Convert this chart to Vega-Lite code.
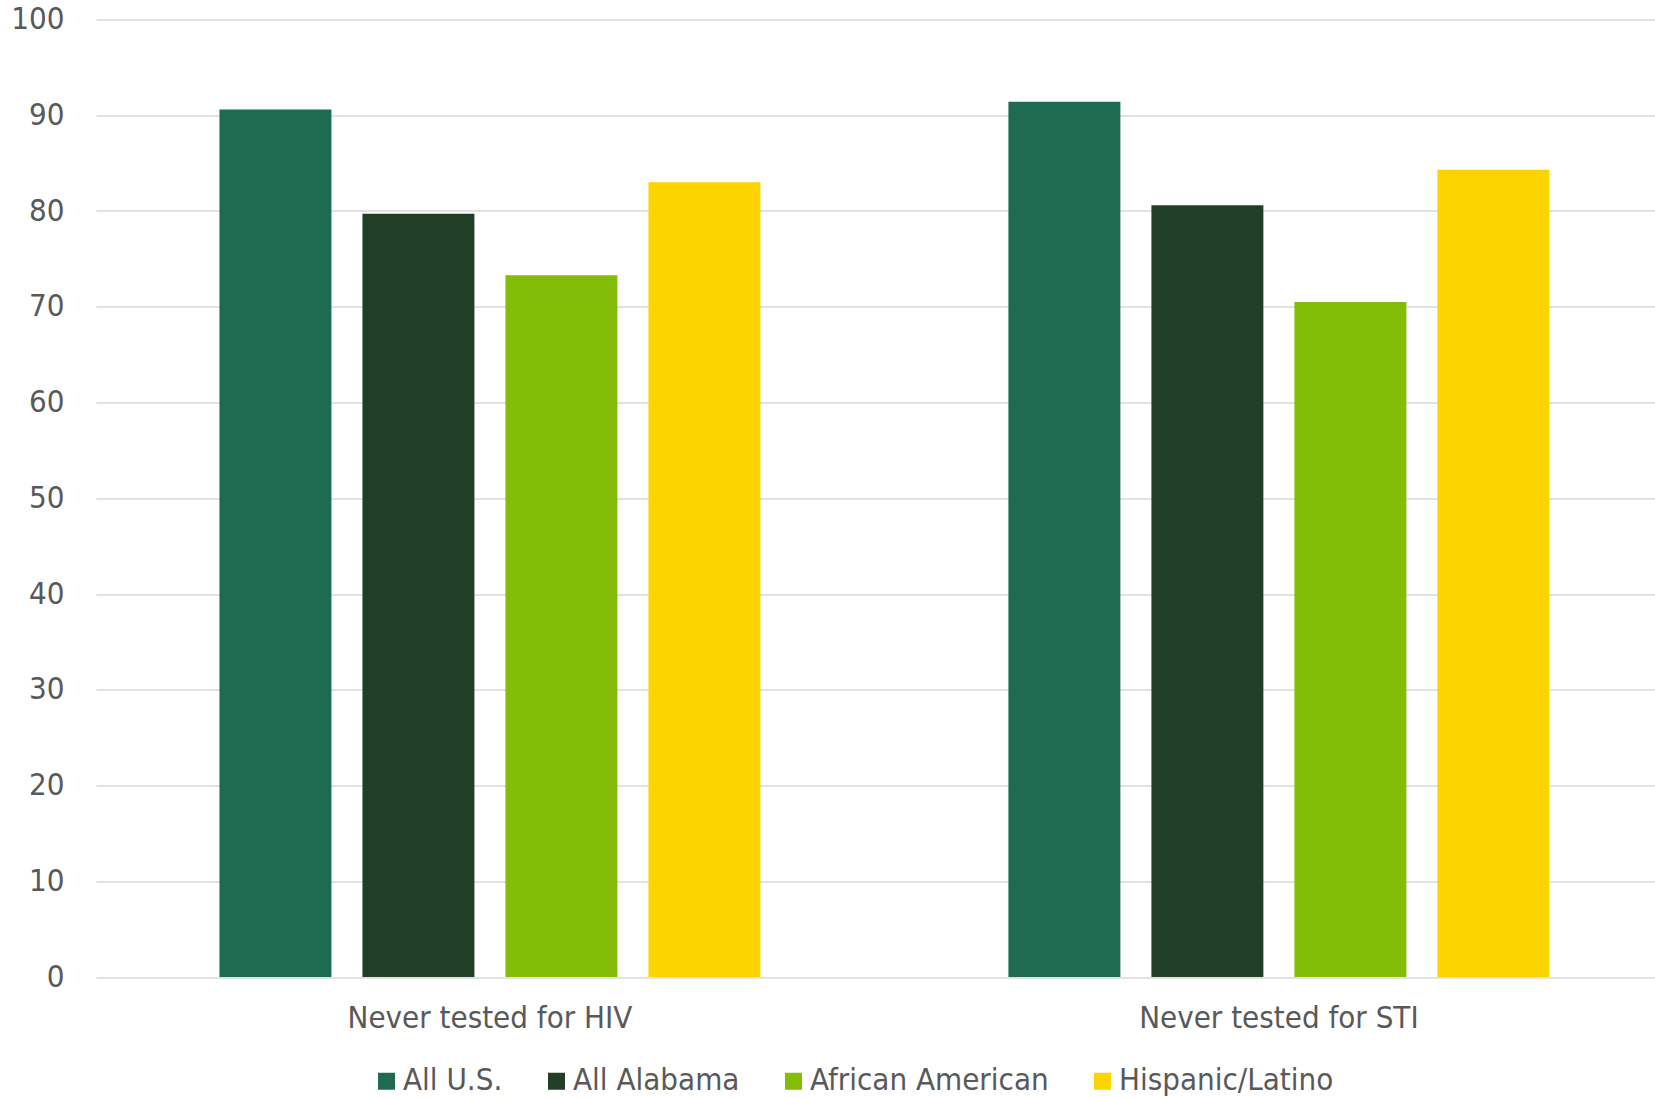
{
  "$schema": "https://vega.github.io/schema/vega-lite/v6.json",
  "width": 1559,
  "height": 957.5,
  "autosize": {"type": "none"},
  "padding": {"left": 96, "top": 19.5, "right": 0, "bottom": 121},
  "background": "white",
  "config": {
    "view": {"stroke": null},
    "font": "Liberation Sans Narrow, DejaVu Sans Condensed, Liberation Sans, sans-serif"
  },
  "data": {
    "values": [
      {"measure": "Never tested for HIV", "group": "All U.S.", "value": 90.6},
      {"measure": "Never tested for HIV", "group": "All Alabama", "value": 79.7},
      {"measure": "Never tested for HIV", "group": "African American", "value": 73.3},
      {"measure": "Never tested for HIV", "group": "Hispanic/Latino", "value": 83.0},
      {"measure": "Never tested for STI", "group": "All U.S.", "value": 91.4},
      {"measure": "Never tested for STI", "group": "All Alabama", "value": 80.6},
      {"measure": "Never tested for STI", "group": "African American", "value": 70.5},
      {"measure": "Never tested for STI", "group": "Hispanic/Latino", "value": 84.3}
    ]
  },
  "mark": {"type": "bar"},
  "encoding": {
    "x": {
      "field": "measure",
      "type": "nominal",
      "sort": ["Never tested for HIV", "Never tested for STI"],
      "scale": {"paddingInner": 0.275, "paddingOuter": 0.1255, "align": 0.545},
      "axis": {
        "title": null,
        "labelAngle": 0,
        "ticks": false,
        "domain": false,
        "labelPadding": 26,
        "labelFontSize": 31,
        "labelLimit": 700,
        "labelColor": "#595959",
        "labelBaseline": "top"
      }
    },
    "xOffset": {
      "field": "group",
      "type": "nominal",
      "sort": ["All U.S.", "All Alabama", "African American", "Hispanic/Latino"],
      "scale": {"paddingInner": 0.217, "paddingOuter": 0.1085}
    },
    "y": {
      "field": "value",
      "type": "quantitative",
      "scale": {"domain": [0, 100], "nice": false},
      "axis": {
        "title": null,
        "values": [0, 10, 20, 30, 40, 50, 60, 70, 80, 90, 100],
        "ticks": false,
        "domain": false,
        "gridColor": "#D9D9D9",
        "gridWidth": 1.5,
        "labelPadding": 32,
        "labelFontSize": 31,
        "labelColor": "#595959"
      }
    },
    "color": {
      "field": "group",
      "type": "nominal",
      "sort": ["All U.S.", "All Alabama", "African American", "Hispanic/Latino"],
      "scale": {
        "domain": ["All U.S.", "All Alabama", "African American", "Hispanic/Latino"],
        "range": ["#1F6B52", "#213F27", "#84BD07", "#FDD300"]
      },
      "legend": {
        "title": null,
        "orient": "none",
        "direction": "horizontal",
        "legendX": 275,
        "legendY": 1046,
        "symbolType": "square",
        "symbolSize": 289,
        "symbolStrokeWidth": 0,
        "symbolOpacity": 1,
        "labelFontSize": 31,
        "labelColor": "#595959",
        "labelOffset": 1,
        "columnPadding": 38,
        "labelLimit": 400
      }
    }
  }
}
